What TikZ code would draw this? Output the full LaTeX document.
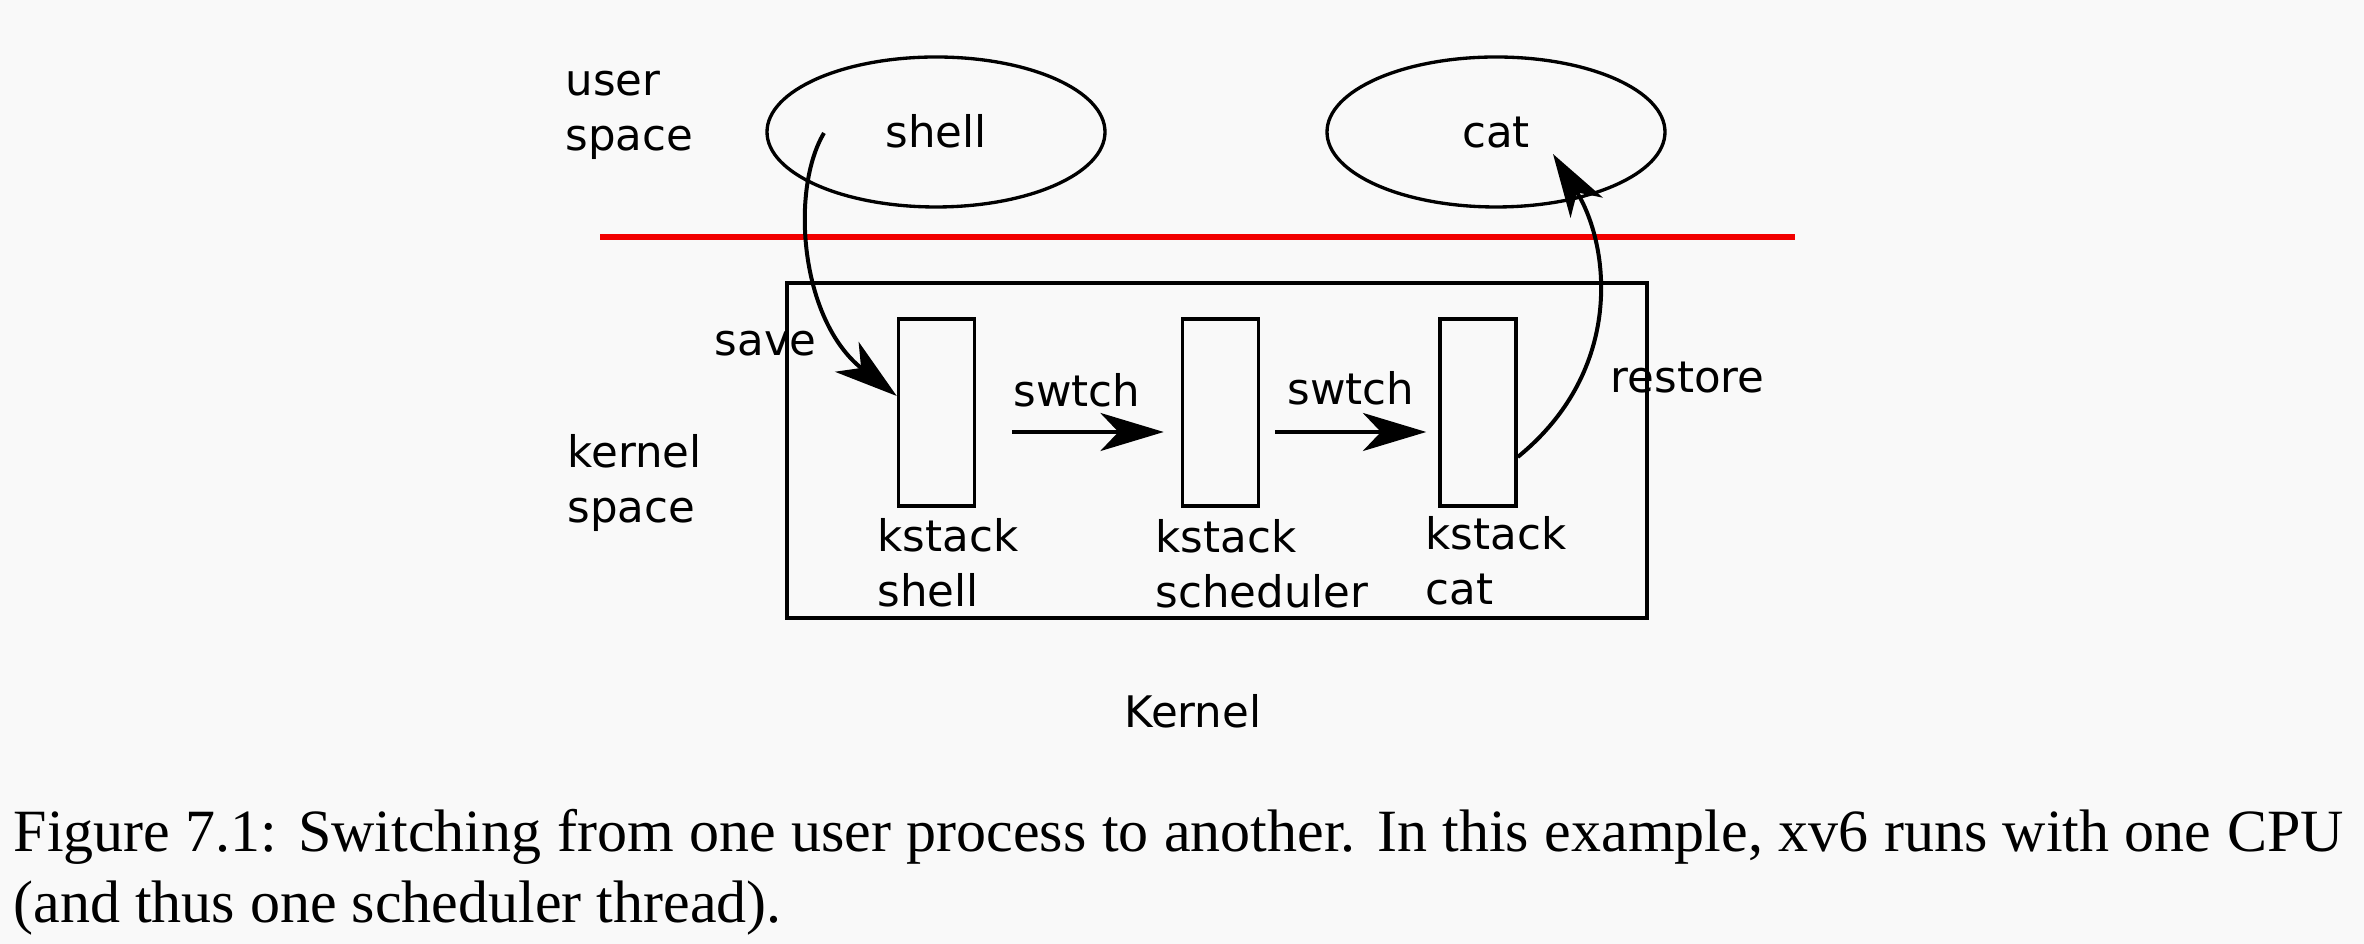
\documentclass[tikz,border=0pt]{standalone}
\usepackage{fontspec}
\setmainfont{DejaVu Sans}
\newfontfamily\capfont{Liberation Serif}
\usetikzlibrary{arrows.meta,shapes.geometric}
\definecolor{bg}{HTML}{F9F9F9}
\definecolor{sepred}{HTML}{F20000}
\begin{document}
\begin{tikzpicture}[x=0.3pt,y=-0.3pt,
  lbl/.style={font=\fontsize{13.05pt}{16.5pt}\selectfont, inner sep=0pt, align=left, anchor=base west},
  proc/.style={ellipse, draw, line width=1pt, minimum width=101.4pt, minimum height=45pt, inner sep=0pt,
    font=\fontsize{13.05pt}{16.5pt}\selectfont, text height=9.6pt, text depth=0pt},
  kst/.style={rectangle, draw, line width=1.05pt, minimum width=22.8pt, minimum height=56.1pt, inner sep=0pt},
  kbox/.style={rectangle, draw, line width=0.95pt, minimum width=258pt, minimum height=100.5pt, inner sep=0pt},
  arr/.style={line width=1.2pt, -{Stealth[length=19pt,width=11.4pt,inset=5.4pt]}},
  capt/.style={font=\capfont\fontsize{18pt}{21.3pt}\selectfont, inner sep=0pt, align=left, anchor=base west}
]
\fill[bg] (0,0) rectangle (2364,944);
\useasboundingbox (0,0) rectangle (2364,944);

% user-space processes
\node[proc] (shell) at (936,132) {shell};
\node[proc] (cat) at (1496,132) {cat};

% separator
\coordinate (redL) at (600,237);
\coordinate (redR) at (1795,237);
\draw[sepred, line width=1.8pt] (redL) -- (redR);

% kernel box and stacks
\node[kbox] (kernel) at (1217,450.5) {};
\node[kst] (r1) at (936.5,412.5) {};
\node[kst] (r2) at (1220.5,412.5) {};
\node[kst] (r3) at (1478,412.5) {};

% labels (multi-line nodes anchored at the last line's baseline)
\node[lbl] (us) at (565,151) {user\\space};
\node[lbl] (ks) at (567,523) {kernel\\space};
\node[lbl] (save) at (714,356) {save};
\node[lbl] (restore) at (1610,393) {restore};
\node[lbl] (sw1) at (1013,407) {swtch};
\node[lbl] (sw2) at (1287,405) {swtch};
\node[lbl] (k1) at (877,607) {kstack\\shell};
\node[lbl] (k2) at (1155,608) {kstack\\scheduler};
\node[lbl] (k3) at (1425,605) {kstack\\cat};
\node[lbl, anchor=base] (kl) at (1193,728) {Kernel};

% connectors
\coordinate (s0) at (824,133);
\draw[arr] (s0) .. controls (790,190) and (800,320) .. ([yshift=4.95pt]r1.west);
\draw[arr, shorten <=10.8pt, shorten >=5.1pt] ([yshift=-5.85pt]r1.east) -- ([yshift=-5.85pt]r2.west);
\draw[arr, shorten <=4.5pt, shorten >=3.6pt] ([yshift=-5.85pt]r2.east) -- ([yshift=-5.85pt]r3.west);
\coordinate (c0) at (1553,154);
\draw[arr] ([yshift=-13.35pt]r3.east) .. controls (1625,370) and (1610,245) .. (c0);

% caption
\node[capt] (cap) at (13,923) {\makebox[699pt][s]{Figure 7.1: Switching from one user process to another. In this example, xv6 runs with one CPU}\\(and thus one scheduler thread).};
\end{tikzpicture}
\end{document}
